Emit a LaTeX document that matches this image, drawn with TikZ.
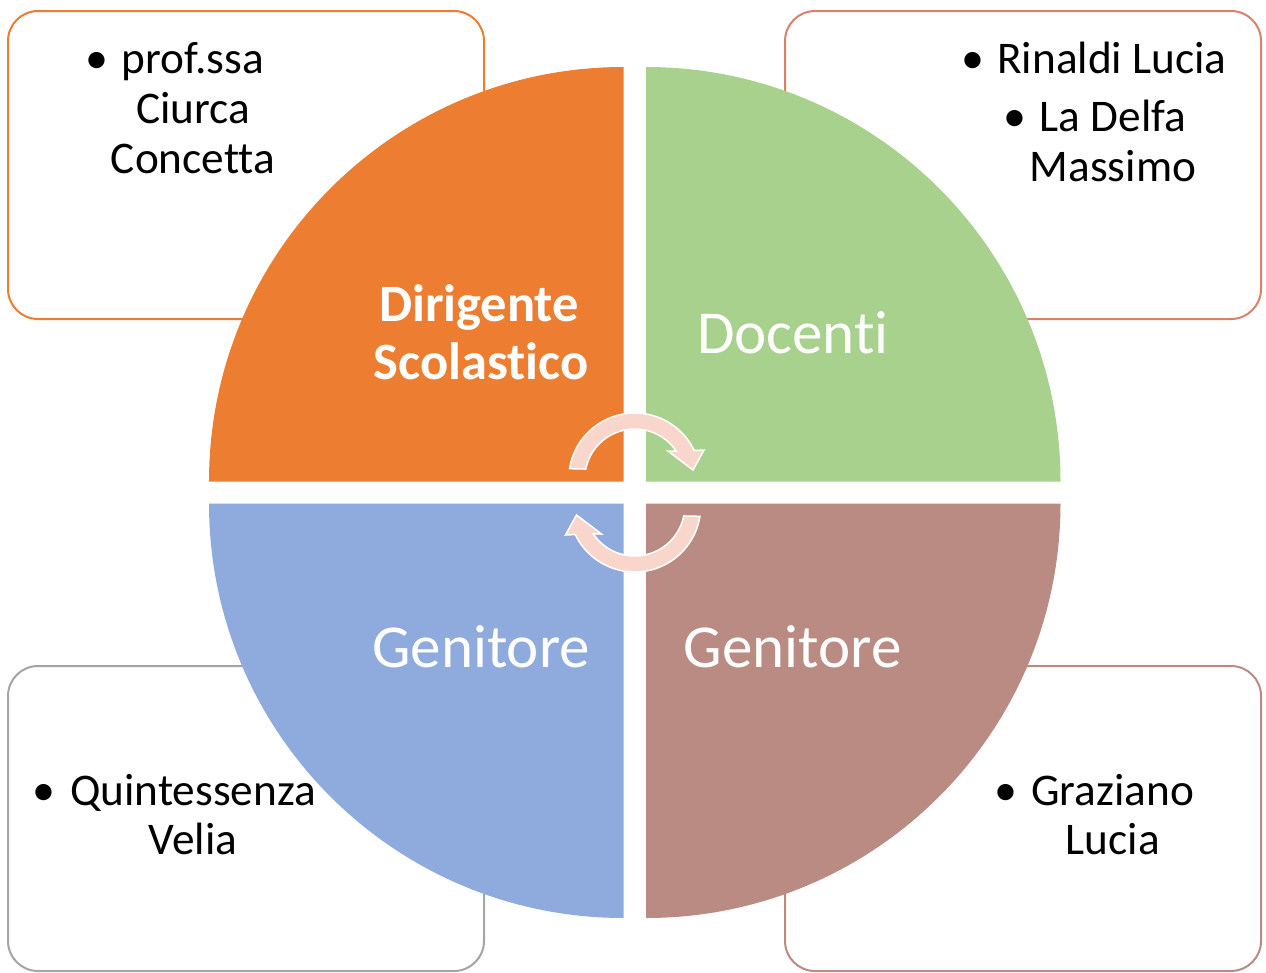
\documentclass[tikz,border=0pt]{standalone}
\usepackage{fontspec}
\setmainfont{Carlito}[RawFeature=-liga]
\definecolor{qorange}{HTML}{ED7D31}
\definecolor{qgreen}{HTML}{A9D18E}
\definecolor{qblue}{HTML}{8FAADC}
\definecolor{qbrown}{HTML}{BA8B82}
\definecolor{bxorange}{HTML}{ED7D31}
\definecolor{bxterra}{HTML}{D9826A}
\definecolor{bxgray}{HTML}{A5A5A5}
\definecolor{bxrose}{HTML}{BA8B82}
\definecolor{arrowpink}{HTML}{F8D6CC}
\tikzset{
  infobox/.style={rounded corners=30pt, line width=2pt, fill=white},
  names/.style={font=\fontsize{45.3}{50}\selectfont, anchor=base, inner sep=0pt, text=black},
  bulletmark/.style={font=\fontsize{46}{50}\selectfont, anchor=base, inner sep=0pt, text=black},
  biglabel/.style={text=white, font=\fontsize{61}{64}\selectfont, anchor=base, inner sep=0pt},
  boldlabel/.style={text=white, font=\bfseries\fontsize{52.5}{58}\selectfont, anchor=base, inner sep=0pt},
  cyc/.style={fill=arrowpink, draw=white, line width=1.5pt, line join=miter}
}
\begin{document}
\begin{tikzpicture}[x=1pt,y=-1pt]
\useasboundingbox (0,0) rectangle (1266,972);
% boxes
\draw[infobox, draw=bxorange] (8,11) rectangle (484,319);
\draw[infobox, draw=bxterra] (785,11) rectangle (1261,319);
\draw[infobox, draw=bxgray] (8,666) rectangle (484,971);
\draw[infobox, draw=bxrose] (785,666) rectangle (1261,971);
% quadrants
\fill[qorange] (623.5,481.5) -- (209,481.5) arc[start angle=180,end angle=270,radius=414.5] -- cycle;
\fill[qgreen] (646,481.5) -- (646,67) arc[start angle=270,end angle=360,radius=414.5] -- cycle;
\fill[qbrown] (646,503.5) -- (1060.5,503.5) arc[start angle=0,end angle=90,radius=414.5] -- cycle;
\fill[qblue] (623.5,503.5) -- (623.5,918) arc[start angle=90,end angle=180,radius=414.5] -- cycle;
% cycle arrows
\begin{scope}[shift={(634.75,479)}]
\filldraw[cyc] (189:66) arc[start angle=189,end angle=334.4,radius=66] -- (69.25,-29) -- (58.25,-9) -- (33.25,-28) -- (326:50) arc[start angle=326,end angle=191.5,radius=50] -- cycle;
\end{scope}
\begin{scope}[rotate around={180:(634.75,492.5)}]
\begin{scope}[shift={(634.75,479)}]
\filldraw[cyc] (189:66) arc[start angle=189,end angle=334.4,radius=66] -- (69.25,-29) -- (58.25,-9) -- (33.25,-28) -- (326:50) arc[start angle=326,end angle=191.5,radius=50] -- cycle;
\end{scope}
\end{scope}
% quadrant labels
\node[boldlabel] (dir1) at (479,321) {Dirigente};
\node[boldlabel] (dir2) at (481,379) {Scolastico};
\node[biglabel] (doc) at (793,353) {Docenti};
\node[biglabel] (gen1) at (481,667) {Genitore};
\node[biglabel] (gen2) at (792.5,667) {Genitore};
% box texts
\node[bulletmark] (b1) at (97,73) {•};
\node[names] (t1a) at (193,73) {prof.ssa};
\node[names] (t1b) at (193,123.5) {Ciurca};
\node[names] (t1c) at (193,173.5) {Concetta};
\node[bulletmark] (b2) at (972.5,73) {•};
\node[names] (t2a) at (1112,73) {Rinaldi Lucia};
\node[bulletmark] (b3) at (1015,131) {•};
\node[names] (t2b) at (1113,131) {La Delfa};
\node[names] (t2c) at (1113,181.5) {Massimo};
\node[bulletmark] (b4) at (44,805.5) {•};
\node[names] (t3a) at (193,805.5) {Quintessenza};
\node[names] (t3b) at (193,854.5) {Velia};
\node[bulletmark] (b5) at (1005.5,805.5) {•};
\node[names] (t4a) at (1112.5,805.5) {Graziano};
\node[names] (t4b) at (1113,854.5) {Lucia};
\end{tikzpicture}
\end{document}
